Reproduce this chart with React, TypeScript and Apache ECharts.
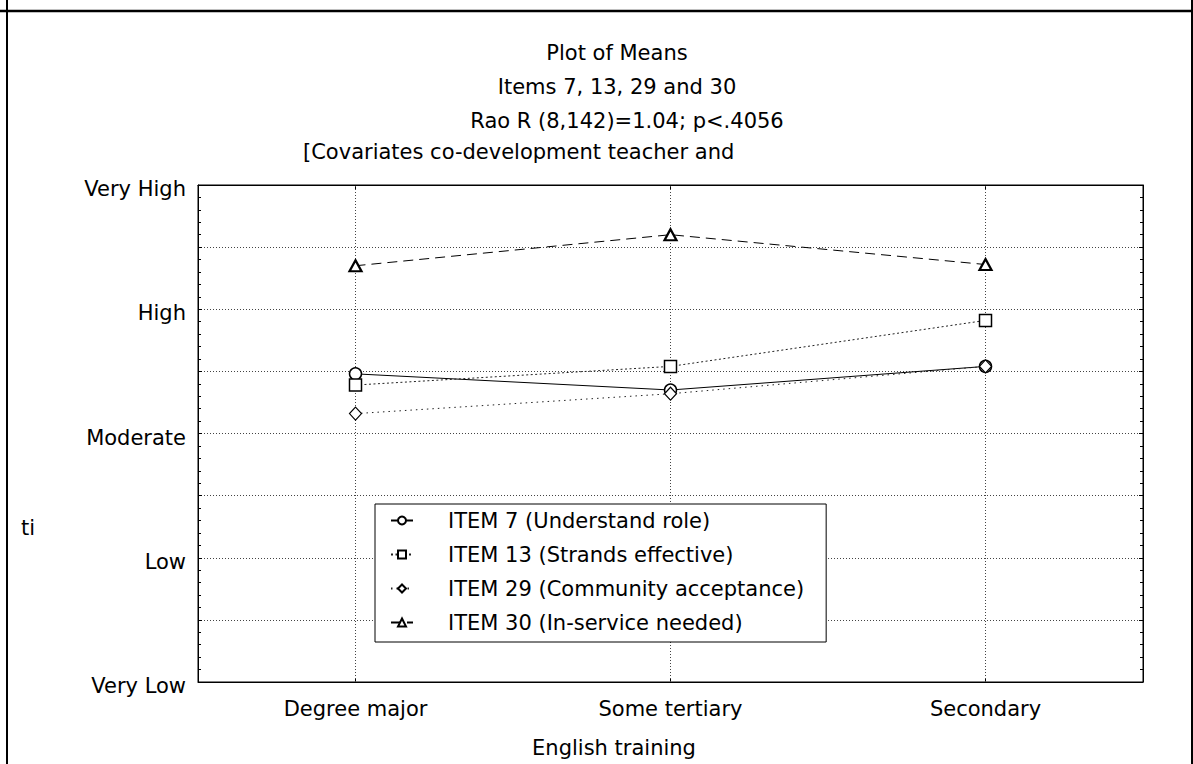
import React, { useEffect, useRef } from "react";
import * as echarts from "echarts";

// English training groups on the x axis
const categories = ["Degree major", "Some tertiary", "Secondary"];

// Mean ratings on a 1 (Very Low) .. 5 (Very High) scale
const item7 = [3.48, 3.35, 3.54];
const item13 = [3.39, 3.54, 3.91];
const item29 = [3.16, 3.32, 3.54];
const item30 = [4.35, 4.6, 4.36];

const seriesNames = [
  "ITEM 7 (Understand role)",
  "ITEM 13 (Strands effective)",
  "ITEM 29 (Community acceptance)",
  "ITEM 30 (In-service needed)",
];

// Rating levels shown at the integer ticks of the y axis
const levelLabels = ["Very Low", "Low", "Moderate", "High", "Very High"];

const titleLines = [
  "Plot of Means",
  "Items 7, 13, 29 and 30",
  "Rao R (8,142)=1.04; p<.4056",
];
const covariateLine = "[Covariates co-development teacher and";
const xAxisTitle = "English training";

const FONT = "DejaVu Sans";

export default function App() {
  const ref = useRef<HTMLDivElement>(null);

  useEffect(() => {
    if (!ref.current) return;
    const chart = echarts.init(ref.current, null, { renderer: "svg" });

    const textBase = { fontFamily: FONT, fontSize: 21, color: "#000" };

    const yAxisCommon = {
      type: "value",
      min: 1,
      max: 5,
      interval: 0.5,
      axisLine: { show: true, lineStyle: { color: "#000", width: 1 } },
      axisTick: { show: true, inside: true, length: 4, lineStyle: { color: "#000" } },
      minorTick: { show: true, splitNumber: 5, length: 3, lineStyle: { color: "#000" } },
      minorSplitLine: { show: false },
    };

    const xAxisCommon = {
      type: "category",
      data: categories,
      boundaryGap: true,
      axisLine: { show: true, lineStyle: { color: "#000", width: 1 } },
      axisTick: { show: true, inside: true, alignWithLabel: true, length: 4, lineStyle: { color: "#000" } },
      splitLine: { show: false },
    };

    const makeSeries = (
      name: string,
      data: number[],
      symbol: string,
      symbolSize: number | number[],
      borderWidth: number,
      lineType: any,
      lineColor: string,
      extra: any = {}
    ) => ({
      name,
      type: "line",
      data,
      symbol,
      symbolSize,
      showAllSymbol: true,
      itemStyle: { color: "#fff", borderColor: "#000", borderWidth },
      lineStyle: { color: lineColor, width: 1, type: lineType },
      z: 3,
      ...extra,
    });

    chart.setOption({
      animation: false,
      backgroundColor: "#fff",
      grid: {
        left: 198,
        top: 185,
        width: 945,
        height: 497,
        show: true,
        borderColor: "#000",
        borderWidth: 1,
        backgroundColor: "transparent",
      },
      xAxis: [
        {
          ...xAxisCommon,
          position: "bottom",
          axisLabel: { ...textBase, margin: 16 },
        },
        {
          ...xAxisCommon,
          position: "top",
          axisLabel: { show: false },
        },
      ],
      yAxis: [
        {
          ...yAxisCommon,
          position: "left",
          axisLabel: {
            ...textBase,
            margin: 12,
            verticalAlign: "middle",
            formatter: (v: number) =>
              Number.isInteger(v) ? `{lv|${levelLabels[v - 1]}}` : "",
            rich: { lv: { ...textBase, padding: [8, 0, 0, 0] } },
          },
          splitLine: {
            show: true,
            lineStyle: { color: "#444", width: 1, type: [1, 2] },
          },
        },
        {
          ...yAxisCommon,
          position: "right",
          axisLabel: { show: false },
          splitLine: { show: false },
        },
      ],
      legend: {
        orient: "vertical",
        left: 375,
        top: 504,
        padding: [6, 22, 9, 15],
        itemWidth: 22,
        itemHeight: 10,
        itemGap: 13,
        backgroundColor: "#fff",
        borderColor: "#000",
        borderWidth: 1,
        data: seriesNames,
        formatter: "{p|{name}}",
        textStyle: {
          ...textBase,
          rich: { p: { ...textBase, padding: [0, 0, 0, 30] } },
        },
        z: 10,
      },
      series: [
        makeSeries(seriesNames[0], item7, "circle", 12, 1.5, "solid", "#000", {
          markLine: {
            silent: true,
            symbol: "none",
            label: { show: false },
            lineStyle: { color: "#444", width: 1, type: [1, 2] },
            data: categories.map((c) => ({ xAxis: c })),
            z: 1,
          },
        }),
        makeSeries(seriesNames[1], item13, "rect", 12, 1.5, [2, 2.5], "#222"),
        makeSeries(seriesNames[2], item29, "diamond", [12, 13], 1.2, [1.5, 4], "#222"),
        makeSeries(seriesNames[3], item30, "triangle", [12, 11], 2.2, [10, 6], "#000"),
      ],
      graphic: [
        // surrounding frame
        { type: "line", shape: { x1: 0, y1: 11, x2: 1193, y2: 11 }, style: { stroke: "#000", lineWidth: 2.5 } },
        { type: "line", shape: { x1: 7, y1: 0, x2: 7, y2: 764 }, style: { stroke: "#000", lineWidth: 2 } },
        { type: "line", shape: { x1: 1192, y1: 0, x2: 1192, y2: 764 }, style: { stroke: "#000", lineWidth: 2 } },
        ...titleLines.map((t, i) => ({
          type: "text",
          x: i === 2 ? 627 : 617,
          y: 53 + i * 34,
          style: { text: t, font: `21px "${FONT}"`, fill: "#000", textAlign: "center", textVerticalAlign: "middle" },
        })),
        {
          type: "text",
          x: 303,
          y: 152,
          style: { text: covariateLine, font: `21px "${FONT}"`, fill: "#000", textAlign: "left", textVerticalAlign: "middle" },
        },
        {
          type: "text",
          x: 614,
          y: 748,
          style: { text: xAxisTitle, font: `21px "${FONT}"`, fill: "#000", textAlign: "center", textVerticalAlign: "middle" },
        },
        {
          type: "text",
          x: 21,
          y: 528,
          style: { text: "ti", font: `21px "${FONT}"`, fill: "#000", textAlign: "left", textVerticalAlign: "middle" },
        },
      ],
    });

    return () => chart.dispose();
  }, []);

  return (
    <div
      ref={ref}
      style={{ position: "fixed", left: 0, top: 0, width: 1193, height: 764, background: "#fff" }}
    />
  );
}
